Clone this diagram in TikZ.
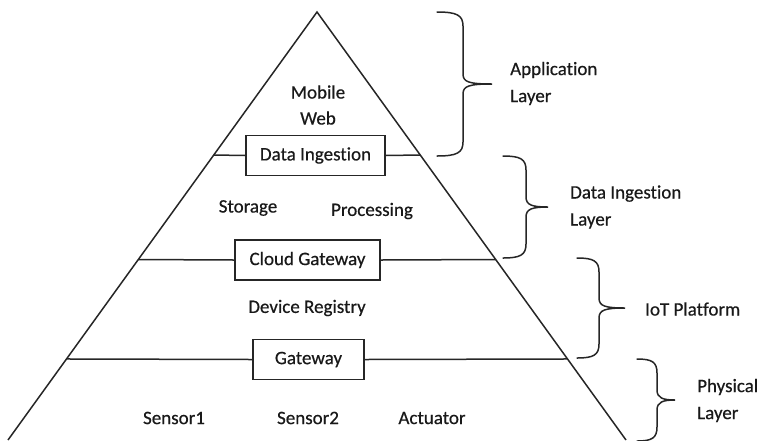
\documentclass[tikz,border=0pt]{standalone}
\usepackage{fontspec}
\setmainfont{Carlito}[Ligatures=NoCommon, FakeBold=0.5, BoldFont=Carlito]
\usetikzlibrary{calc}
% curly brace: left x, top y, bottom y, spine offset, tip offset
\newcommand\layerbrace[5]{%
  \draw[curly] (#1,#2)
    .. controls ({#1+0.75*#4},#2) and ({#1+#4},{#2+3}) .. ({#1+#4},{#2+14})
    -- ({#1+#4},{(#2+#3)/2-10})
    .. controls ({#1+#4},{(#2+#3)/2-2}) and ({#1+#4+6},{(#2+#3)/2}) .. ({#1+#5},{(#2+#3)/2})
    .. controls ({#1+#4+6},{(#2+#3)/2}) and ({#1+#4},{(#2+#3)/2+2}) .. ({#1+#4},{(#2+#3)/2+10})
    -- ({#1+#4},{#3-14})
    .. controls ({#1+#4},{#3-3}) and ({#1+0.75*#4},#3) .. (#1,#3);}
\begin{document}
\begin{tikzpicture}[x=1pt,y=-1pt,
  every node/.style={font=\fontsize{19}{27}\selectfont\bfseries, text=black!90},
  line/.style={line width=1.5pt, black!85},
  layerbox/.style={draw=black!85, line width=1.5pt, fill=white, inner sep=0pt, minimum height=40pt},
  lbl/.style={anchor=west, align=left, inner sep=0pt},
  curly/.style={line width=1.5pt, black!85, line cap=round}
]
\useasboundingbox (0,0) rectangle (759,440);
\clip (0,0) rectangle (759,440);

% pyramid outline
\coordinate (apex) at (317,12);
\coordinate (bl) at (8,440);
\coordinate (br) at (626,440);
\draw[line] (bl) -- (apex) -- (br);

% separator boxes
\node[layerbox, minimum width=139pt] (ingest) at (315.5,155.5) {Data Ingestion};
\node[layerbox, minimum width=145pt] (cloud) at (307.5,260) {Cloud Gateway};
\node[layerbox, minimum width=111pt] (gw) at (308.5,359.5) {Gateway};

% separator lines, ending on the pyramid sides
\coordinate (l1) at ($(apex)!0.3341!(bl)$);
\coordinate (r1) at ($(apex)!0.3341!(br)$);
\coordinate (l2) at ($(apex)!0.5783!(bl)$);
\coordinate (r2) at ($(apex)!0.5783!(br)$);
\coordinate (l3) at ($(apex)!0.8107!(bl)$);
\coordinate (r3) at ($(apex)!0.8107!(br)$);
\draw[line] (l1) -- (ingest.west) (ingest.east) -- (r1);
\draw[line] (l2) -- (cloud.west) (cloud.east) -- (r2);
\draw[line] (l3) -- (gw.west) (gw.east) -- (r3);

% layer contents
\node (mobile) at (318,92) {Mobile};
\node (web) at (318,118) {Web};
\node (storage) at (248,208) {Storage};
\node (processing) at (372,211) {Processing};
\node (registry) at (307,308) {Device Registry};
\node (s1) at (174,418) {Sensor1};
\node (s2) at (308,418) {Sensor2};
\node (act) at (432,418) {Actuator};

% braces and layer names
\layerbrace{437}{12}{156}{26}{55}
\layerbrace{503}{156}{258}{23}{45}
\layerbrace{577}{258}{358}{22}{48}
\layerbrace{637}{359}{441}{20}{38}
\node[lbl] (app) at (510,83.5) {Application\\Layer};
\node[lbl] (dil) at (570,207) {Data Ingestion\\Layer};
\node[lbl] (iot) at (645,309) {IoT Platform};
\node[lbl] (phy) at (697,400.5) {Physical\\Layer};
\end{tikzpicture}
\end{document}
